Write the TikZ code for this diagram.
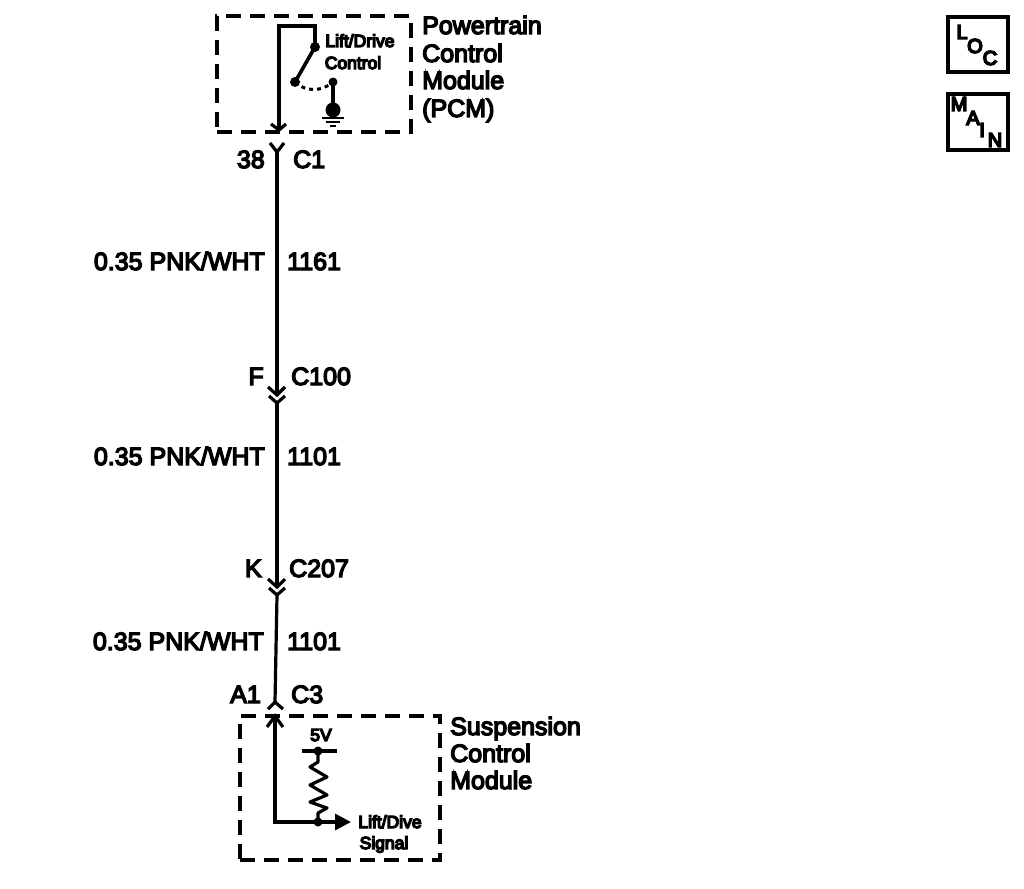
\documentclass[tikz,border=0pt]{standalone}
\usepackage{fontspec}
\setmainfont{Liberation Sans}
\newfontfamily\heavy[FakeBold=5.5]{Liberation Sans}
\newfontfamily\heavier[FakeBold=8]{Liberation Sans}
\usetikzlibrary{arrows.meta}
\tikzset{
  x=1pt,y=-1pt,
  wire/.style={line width=3.2pt,line cap=butt,line join=miter,black},
  thin wire/.style={line width=2.6pt,black},
  modbox/.style={draw,line width=3.8pt,dash pattern=on 15pt off 9pt,minimum width=0pt,inner sep=0pt,rectangle},
  dotnode/.style={circle,fill=black,inner sep=0pt,minimum size=10pt},
  lab/.style={anchor=base west,inner sep=0pt,font=\fontsize{25}{25}\selectfont\heavy},
  smalllab/.style={anchor=base,inner sep=0pt,font=\fontsize{17.5}{17.5}\selectfont\heavier},
  tag/.style={anchor=center,inner sep=0pt,font=\fontsize{20}{20}\selectfont\heavier},
  tagbox/.style={draw,line width=4pt,rectangle,inner sep=0pt},
}
\begin{document}
\begin{tikzpicture}
\useasboundingbox (0,0) rectangle (1024,888);

% ---- module boxes
\node[modbox,minimum width=194pt,minimum height=116pt] (pcm) at (314,74) {};
\node[modbox,minimum width=200pt,minimum height=144pt] (scm) at (340,788) {};

% ---- module titles
\node[lab] (t1) at (422,34) {Powertrain};
\node[lab] (t2) at (422,62) {Control};
\node[lab] (t3) at (422,89) {Module};
\node[lab] (t4) at (422,117) {(PCM)};
\node[lab] (s1) at (450,735) {Suspension};
\node[lab] (s2) at (450,762) {Control};
\node[lab] (s3) at (450,789) {Module};

% ---- PCM inside
\coordinate (pin) at (279,130);
\coordinate (ptop) at (279,26);
\coordinate (ptr) at (315,26);
\node[dotnode] (sw1) at (315,47) {};
\node[dotnode] (sw2) at (295,82) {};
\node[dotnode,minimum size=9pt] (gdot) at (333,82) {};
\node[circle,fill=black,inner sep=0pt,minimum size=15pt] (gblob) at (333,110) {};
\coordinate (g1a) at (322,118); \coordinate (g1b) at (344,118);
\coordinate (g2a) at (326,122); \coordinate (g2b) at (340,122);
\coordinate (g3a) at (330,126); \coordinate (g3b) at (336,126);
\draw[wire] (pin) -- (ptop) -- (ptr) -- (sw1.center);
\draw[wire,line width=3.6pt] (sw1.center) -- (sw2.center);
\draw[thin wire,line width=3pt,dash pattern=on 4pt off 4pt] (sw2.center) .. controls (305,92) and (322,92) .. (gdot.center);
\draw[wire,line width=3.6pt] (gdot.center) -- (gblob.center);
\draw[thin wire] (g1a) -- (g1b);
\draw[thin wire] (g2a) -- (g2b);
\draw[thin wire] (g3a) -- (g3b);
\node[smalllab] (ld1) at (360,47) {Lift/Drive};
\node[smalllab] (ld2) at (353,69) {Control};

% ---- terminal at PCM
\coordinate (pl) at (271,124); \coordinate (pr) at (286,124);
\draw[wire] (pl) -- (pin) -- (pr);

% ---- wiring
\coordinate (y1) at (277,152);
\coordinate (y1l) at (270,143); \coordinate (y1r) at (284,143);
\draw[wire] (y1l) -- (y1) -- (y1r);

\coordinate (f) at (277,395);
\coordinate (fl) at (268,387); \coordinate (fr) at (285,387);
\coordinate (y2) at (277,403);
\coordinate (y2l) at (269,396); \coordinate (y2r) at (285,396);
\draw[wire] (y1) -- (f);
\draw[wire] (fl) -- (f) -- (fr);
\draw[wire] (y2l) -- (y2) -- (y2r);

\coordinate (k) at (277,587);
\coordinate (kl) at (268,579); \coordinate (kr) at (285,579);
\coordinate (y3) at (277,595);
\coordinate (y3l) at (269,588); \coordinate (y3r) at (285,588);
\draw[wire] (y2) -- (k);
\draw[wire] (kl) -- (k) -- (kr);
\draw[wire] (y3l) -- (y3) -- (y3r);

\coordinate (a1) at (275,702);
\coordinate (a1l) at (268,709); \coordinate (a1r) at (283,709);
\draw[wire] (y3) -- (a1);
\draw[wire] (a1l) -- (a1) -- (a1r);

% ---- wire labels
\node[lab,anchor=base east] (l38) at (265,168) {38};
\node[lab] (lc1) at (293,168) {C1};
\node[lab,anchor=base east] (w1) at (265,270) {0.35 PNK/WHT};
\node[lab] (n1) at (287,270) {1161};
\node[lab,anchor=base east] (lf) at (264,385) {F};
\node[lab] (lc100) at (291,385) {C100};
\node[lab,anchor=base east] (w2) at (265,465) {0.35 PNK/WHT};
\node[lab] (n2) at (287,465) {1101};
\node[lab,anchor=base east] (lk) at (262,577) {K};
\node[lab] (lc207) at (289,577) {C207};
\node[lab,anchor=base east] (w3) at (264,650) {0.35 PNK/WHT};
\node[lab] (n3) at (287,650) {1101};
\node[lab,anchor=base east] (la1) at (261,703) {A1};
\node[lab] (lc3) at (291,703) {C3};

% ---- SCM inside
\coordinate (sin) at (275,716);
\coordinate (sinl) at (267,727); \coordinate (sinr) at (283,727);
\coordinate (scorner) at (275,822);
\node[dotnode,minimum size=9pt] (rb) at (318,822) {};
\node[dotnode,minimum size=9pt] (rt) at (318,751) {};
\coordinate (barl) at (302,751); \coordinate (barr) at (337,751);
\coordinate (sig) at (351,822);
\draw[wire] (sin) -- (scorner) -- (rb.center);
\draw[wire] (sinl) -- (sin) -- (sinr);
\draw[wire,-{Triangle[length=16pt,width=16pt]}] (rb.center) -- (sig);
\draw[wire] (barl) -- (barr);
\draw[wire,line join=round] (rt.center) -- (318,762) -- (310,767) -- (327,777) -- (310,785) -- (327,795) -- (310,802) -- (327,808) -- (318,813) -- (rb.center);
\node[smalllab] (v5) at (321,741) {5V};
\node[smalllab] (sg1) at (390,828) {Lift/Dive};
\node[smalllab] (sg2) at (384,849) {Signal};

% ---- LOC / MAIN
\node[tagbox,minimum width=60pt,minimum height=55pt] (loc) at (978,45) {};
\node[tagbox,minimum width=60pt,minimum height=55pt] (main) at (978,122) {};
\node[tag] (lL) at (962,32) {L};
\node[tag] (lO) at (975,46) {O};
\node[tag] (lC) at (990,58) {C};
\node[tag] (mM) at (959,104) {M};
\node[tag] (mA) at (973,118) {A};
\node[tag] (mI) at (982,130) {I};
\node[tag] (mN) at (995,140) {N};
\end{tikzpicture}
\end{document}
